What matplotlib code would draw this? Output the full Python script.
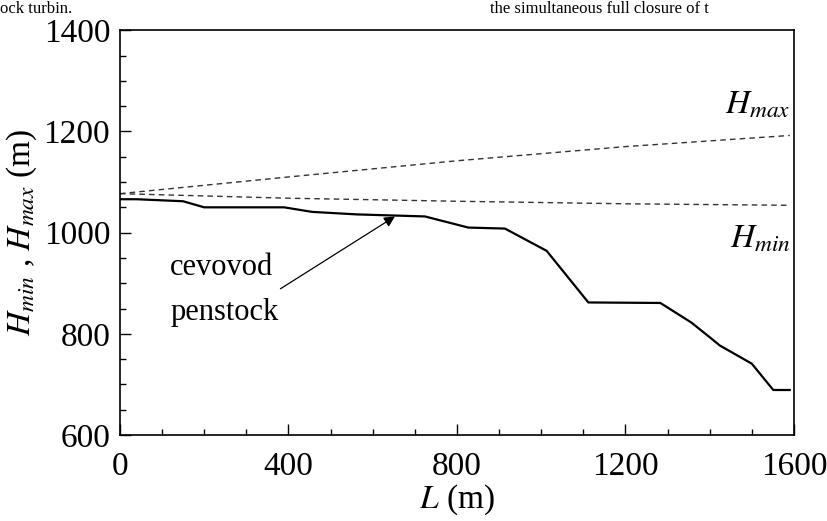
import numpy as np
import matplotlib
matplotlib.use('Agg')
import matplotlib.pyplot as plt
from matplotlib.ticker import MultipleLocator

plt.rcParams['font.family'] = ['Liberation Serif', 'DejaVu Serif']
plt.rcParams['mathtext.fontset'] = 'stix'

# penstock profile (cevovod)
L_pipe = [0, 40, 150, 200, 390, 456, 563, 724, 827, 914, 1013, 1112, 1283, 1357, 1405, 1424, 1500, 1551, 1590]
H_pipe = [1066, 1066, 1062, 1050, 1050, 1041, 1036, 1032, 1010, 1008, 964, 862, 861, 822, 790, 777, 741, 689, 689]

# envelopes of piezometric head
L_env = [0, 400, 800, 1200, 1590]
H_max = [1077, 1110, 1142, 1170, 1192]
H_min = [1077, 1068, 1062, 1057, 1054]

fig = plt.figure(figsize=(8.27, 5.21), dpi=100)
ax = fig.add_axes([0.145, 0.165, 0.815, 0.777])

ax.plot(L_pipe, H_pipe, color='black', lw=1.6)
ax.plot(L_env, H_max, color='#333333', lw=1.0, ls=(0, (4, 3)))
ax.plot(L_env, H_min, color='#333333', lw=1.0, ls=(0, (4, 3)))

ax.set_xlim(0, 1600)
ax.set_ylim(600, 1400)
ax.xaxis.set_major_locator(MultipleLocator(400))
ax.xaxis.set_minor_locator(MultipleLocator(100))
ax.yaxis.set_major_locator(MultipleLocator(200))
ax.yaxis.set_minor_locator(MultipleLocator(50))
ax.tick_params(which='both', direction='in', top=False, right=False, labelsize=24, width=1.0)
ax.tick_params(which='major', length=8)
ax.tick_params(which='minor', length=4)
ax.tick_params(axis='x', which='major', pad=12)
ax.tick_params(axis='y', which='major', pad=7)
for s in ax.spines.values():
    s.set_linewidth(1.2)

ax.set_xlabel(r'$L$ (m)', fontsize=24, labelpad=0)
ax.set_ylabel(r'$H_{min}$ , $H_{max}$ (m)', fontsize=24, labelpad=3)

ax.text(1436, 1235, r'$H_{max}$', fontsize=24, ha='left', va='baseline')
ax.text(1448, 970, r'$H_{min}$', fontsize=24, ha='left', va='baseline')

ax.text(119, 931, 'cevovod', fontsize=22, ha='left', va='center')
ax.text(119, 843, 'penstock', fontsize=22, ha='left', va='center')
ax.annotate('', xy=(653, 1032), xytext=(381, 889),
            arrowprops=dict(arrowstyle='-|>', color='black', lw=0.9,
                            mutation_scale=16, shrinkA=0, shrinkB=0))

# bits of surrounding page text at the top
fig.text(0.0, 0.999, 'ock turbin.', fontsize=12, ha='left', va='top')
fig.text(0.592, 0.999, 'the simultaneous full closure of t', fontsize=12, ha='left', va='top')

fig.savefig('out.png', dpi=100)
